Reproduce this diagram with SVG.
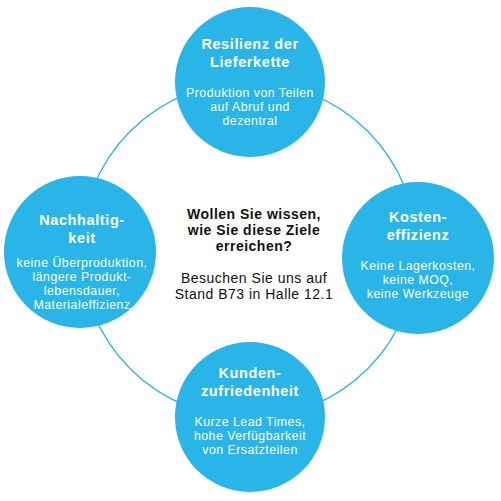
<svg xmlns="http://www.w3.org/2000/svg" width="501" height="501" viewBox="0 0 501 501">
<style>
.node{fill:#29B5E8}
.t{font-family:"Liberation Sans",Arial,sans-serif;fill:#fff;text-anchor:middle}
.h{font-size:14.5px;font-weight:bold;letter-spacing:0.6px}
.b{font-size:12.3px;letter-spacing:0.5px}
.c{font-family:"Liberation Sans",Arial,sans-serif;fill:#111;text-anchor:middle;font-size:14px;letter-spacing:0.5px}
</style>
<rect width="501" height="501" fill="#fff"/>
<g id="connectors">
<circle cx="249" cy="250" r="168" fill="none" stroke="#29B5E8" stroke-width="1.3"/>
</g>
<g id="center">
<text class="c" font-weight="bold" x="254" y="219">Wollen Sie wissen,</text>
<text class="c" font-weight="bold" x="254" y="235">wie Sie diese Ziele</text>
<text class="c" font-weight="bold" x="254" y="251">erreichen?</text>
<text class="c" x="254" y="283">Besuchen Sie uns auf</text>
<text class="c" x="254" y="299">Stand B73 in Halle 12.1</text>
</g>
<g id="top">
<circle class="node" cx="250" cy="82" r="75"/>
<text class="t h" x="250" y="49">Resilienz der</text>
<text class="t h" x="250" y="67">Lieferkette</text>
<text class="t b" x="250" y="97">Produktion von Teilen</text>
<text class="t b" x="250" y="111">auf Abruf und</text>
<text class="t b" x="250" y="125">dezentral</text>
</g>
<g id="left">
<circle class="node" cx="80" cy="252" r="76"/>
<text class="t h" x="82" y="225">Nachhaltig-</text>
<text class="t h" x="82" y="243">keit</text>
<text class="t b" x="82" y="267">keine Überproduktion,</text>
<text class="t b" x="82" y="281">längere Produkt-</text>
<text class="t b" x="82" y="295">lebensdauer,</text>
<text class="t b" x="82" y="309">Materialeffizienz</text>
</g>
<g id="right">
<circle class="node" cx="418" cy="258" r="76"/>
<text class="t h" x="418" y="222">Kosten-</text>
<text class="t h" x="418" y="240">effizienz</text>
<text class="t b" x="418" y="270">Keine Lagerkosten,</text>
<text class="t b" x="418" y="284">keine MOQ,</text>
<text class="t b" x="418" y="298">keine Werkzeuge</text>
</g>
<g id="bottom">
<circle class="node" cx="250" cy="417" r="75"/>
<text class="t h" x="250" y="378">Kunden-</text>
<text class="t h" x="250" y="396">zufriedenheit</text>
<text class="t b" x="250" y="426">Kurze Lead Times,</text>
<text class="t b" x="250" y="440">hohe Verfügbarkeit</text>
<text class="t b" x="250" y="454">von Ersatzteilen</text>
</g>
</svg>
